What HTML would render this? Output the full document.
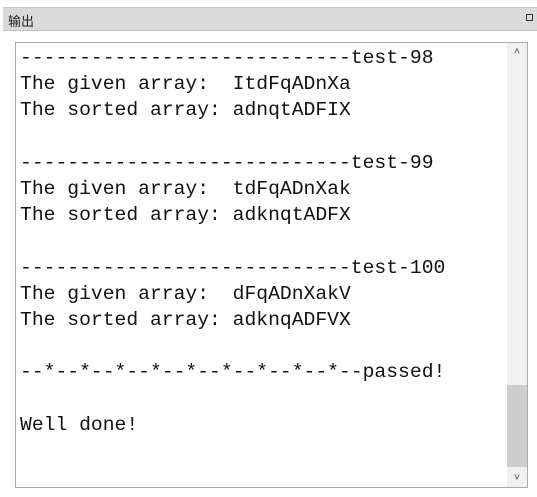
<!DOCTYPE html>
<html><head><meta charset="utf-8"><style>
html,body{margin:0;padding:0;background:#fff;width:537px;height:497px;overflow:hidden;position:relative}
.title{position:absolute;left:3px;top:7px;width:534px;height:22px;background:#dadada;border-top:1px solid #c8c8c8;border-bottom:1px solid #c0c0c0;font-family:"Liberation Sans","Noto Sans CJK SC",sans-serif;font-size:13px;color:#222}
.title span{position:absolute;left:5px;top:3px}
.title i{position:absolute;right:4px;top:6px;width:5px;height:5px;border:1px solid #333;font-style:normal}
.box{position:absolute;left:15px;top:42px;width:511px;height:444px;border:1px solid #aaa;background:#fff;overflow:hidden}
pre{position:absolute;left:4px;top:2px;margin:0;font-family:"Liberation Mono",monospace;font-size:19.7px;line-height:26.2px;color:#111}
.sb{position:absolute;right:0;top:0;width:20px;height:100%;background:#f0f0f0}
.thumb{position:absolute;left:0;width:20px;top:342px;height:82px;background:#cdcdcd}
.up,.dn{position:absolute;left:0;width:20px;text-align:center;font-family:"Liberation Sans",sans-serif;font-size:11px;color:#555}
.up{top:3px}.dn{bottom:3px}
</style></head><body>
<div class="title"><span>输出</span><i></i></div>
<div class="box">
<pre>----------------------------test-98
The given array:  ItdFqADnXa
The sorted array: adnqtADFIX

----------------------------test-99
The given array:  tdFqADnXak
The sorted array: adknqtADFX

----------------------------test-100
The given array:  dFqADnXakV
The sorted array: adknqADFVX

--*--*--*--*--*--*--*--*--*--passed!

Well done!</pre>
<div class="sb"><div class="up">˄</div><div class="thumb"></div><div class="dn">˅</div></div>
</div>
</body></html>
